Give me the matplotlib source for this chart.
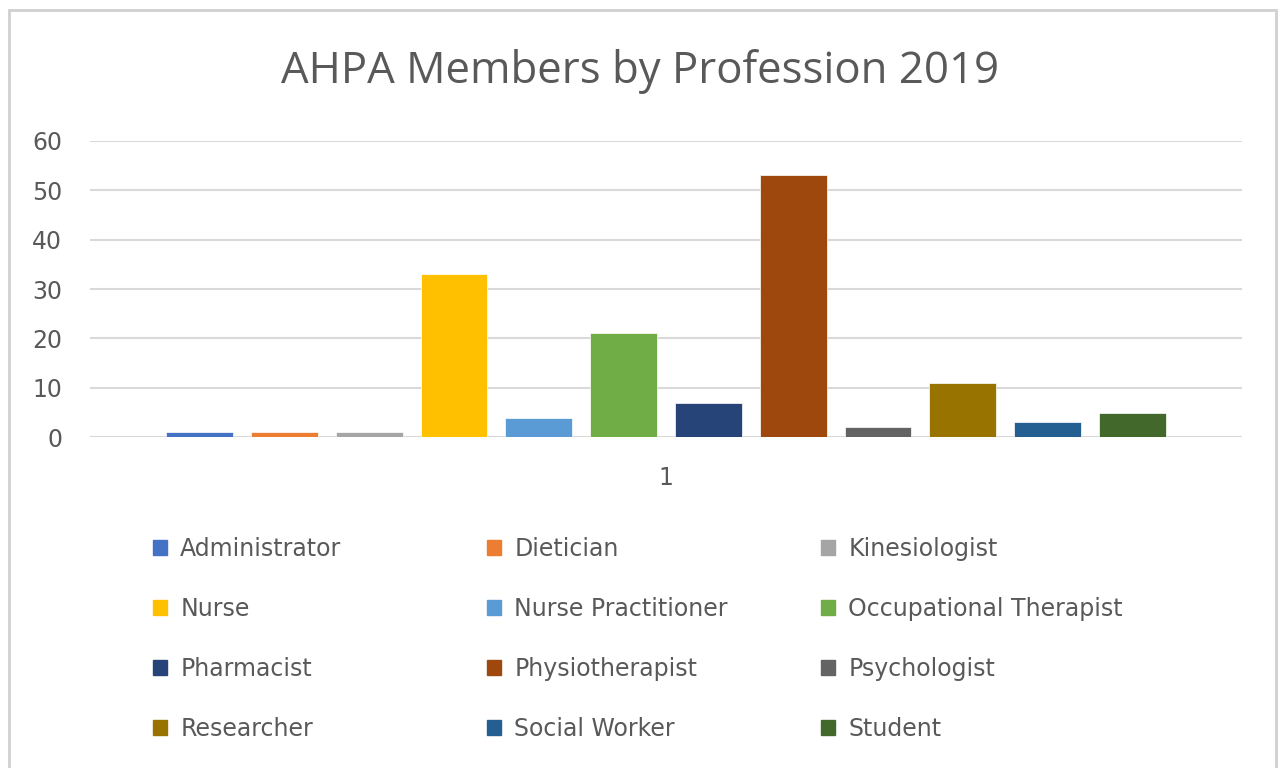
import matplotlib
matplotlib.use("Agg")
import matplotlib.pyplot as plt
from matplotlib.patches import Patch, Rectangle

professions = ["Administrator", "Dietician", "Kinesiologist", "Nurse",
               "Nurse Practitioner", "Occupational Therapist", "Pharmacist",
               "Physiotherapist", "Psychologist", "Researcher", "Social Worker",
               "Student"]
members = [1, 1, 1, 33, 4, 21, 7, 53, 2, 11, 3, 5]
colors = ["#4472C4", "#ED7D31", "#A5A5A5", "#FFC000", "#5B9BD5", "#70AD47",
          "#264478", "#9E480E", "#636363", "#997300", "#255E91", "#43682B"]
category = ["1"]
yticks = [0, 10, 20, 30, 40, 50, 60]

plt.rcParams['font.family'] = ['DejaVu Sans']
txt = "#595959"
grid = "#d9d9d9"

fig = plt.figure(figsize=(12.81, 7.68), dpi=100)
fig.patches.append(Rectangle((9/1281, -0.1), (1276-9)/1281, 1.1 - 10/768,
                             transform=fig.transFigure, fill=False,
                             edgecolor="#d0d0d0", linewidth=2))

ax = fig.add_axes([90/1281, 1-437.3/768, (1242-90)/1281, (437.3-140.7)/768])
n = len(members)
slot = 0.0736
bw = 0.058
handles = []
for i, (p, v, c) in enumerate(zip(professions, members, colors)):
    x = 0 + (i - (n-1)/2) * slot
    ax.bar(x, v, width=bw, color=c, edgecolor="white", linewidth=0.5, zorder=3)
    handles.append(Patch(facecolor=c, edgecolor=c, label=p))

ax.set_xlim(-0.5, 0.5)
ax.set_ylim(0, 60)
ax.set_yticks(yticks)
ax.set_xticks([0])
ax.set_xticklabels(category)
ax.yaxis.grid(True, color=grid, linewidth=1.5, zorder=0)
ax.set_axisbelow(True)
for s in ax.spines.values():
    s.set_visible(False)
ax.tick_params(axis='both', length=0, labelsize=17, labelcolor=txt)
ax.tick_params(axis='y', pad=20)
ax.tick_params(axis='x', pad=21)

fig.text(0.5, 1-72/768, "AHPA Members by Profession 2019", ha="center",
         va="center", fontsize=31.5, color=txt,
         family=['Open Sans', 'DejaVu Sans'])

col_x = [153, 487, 821]
for c in range(3):
    idx = [r*3 + c for r in range(4)]
    leg = fig.legend([handles[k] for k in idx], [professions[k] for k in idx],
                     ncol=1, loc="upper left",
                     bbox_to_anchor=(col_x[c]/1281, 1-537/768),
                     frameon=False, fontsize=17, handlelength=0.6,
                     handleheight=0.6, handletextpad=0.55, labelspacing=1.52,
                     borderaxespad=0, borderpad=0)
    for t in leg.get_texts():
        t.set_color(txt)

fig.savefig("out.png", dpi=100, facecolor="white")
